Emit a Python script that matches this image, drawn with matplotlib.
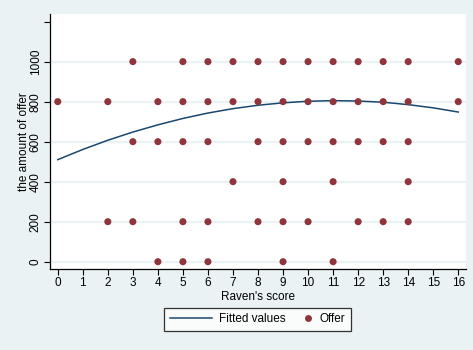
import matplotlib
matplotlib.use("Agg")
import matplotlib.pyplot as plt
from matplotlib.lines import Line2D
from matplotlib.legend_handler import HandlerLine2DCompound

plt.rcParams['font.family'] = ['Liberation Sans', 'DejaVu Sans']

# offers observed at each Raven's score, grouped by offer level
offer_levels = [1000, 800, 600, 400, 200, 0]
scores_by_level = {
    1000: [3, 5, 6, 7, 8, 9, 10, 11, 12, 13, 14, 16],
    800: [0, 2, 4, 5, 6, 7, 8, 9, 10, 11, 12, 13, 14, 16],
    600: [3, 4, 5, 6, 8, 9, 10, 11, 12, 13, 14],
    400: [7, 9, 11, 14],
    200: [2, 3, 5, 6, 8, 9, 10, 12, 13, 14],
    0: [4, 5, 6, 9, 11],
}

# quadratic fitted values
fit_x = list(range(17))
fit_y = [510, 561, 607, 648, 684, 716, 743, 765, 782, 794,
         802, 805, 803, 797, 785, 769, 748]

bg = '#EAF2F3'
navy = '#1A476F'
maroon = '#90353B'


class RightMarker(HandlerLine2DCompound):
    # put the single legend marker at the right end of its handle box
    def get_xdata(self, legend, xdescent, ydescent, width, height, fontsize):
        xdata, _ = super().get_xdata(legend, xdescent, ydescent, width,
                                     height, fontsize)
        return xdata, [-xdescent + width - 3]


fig = plt.figure(figsize=(4.73, 3.5), dpi=100, facecolor=bg)
ax = fig.add_axes([0.1057, 0.2314, 0.879, 0.7286])
ax.set_facecolor('white')

for y in [0, 200, 400, 600, 800, 1000]:
    ax.axhline(y, color=bg, lw=1.6, zorder=0)

ax.plot(fit_x, fit_y, color=navy, lw=1.1, zorder=2)

xs, ys = [], []
for lvl in offer_levels:
    for s in scores_by_level[lvl]:
        xs.append(s)
        ys.append(lvl)
ax.scatter(xs, ys, s=26, color=maroon, edgecolors='none', zorder=3)

ax.set_xlim(-0.31, 16.3)
ax.set_ylim(-36.5, 1238)
ax.set_xticks(range(17))
ax.set_yticks([0, 200, 400, 600, 800, 1000, 1200])
ax.set_yticklabels(['0', '200', '400', '600', '800', '1000', ''],
                   rotation=90, va='center')

for sp in ['top', 'right']:
    ax.spines[sp].set_visible(False)
for sp in ['left', 'bottom']:
    ax.spines[sp].set_color('black')
    ax.spines[sp].set_linewidth(0.9)

ax.tick_params(axis='both', labelsize=8.5, length=4, width=0.8, pad=2)
ax.set_xlabel("Raven's score", fontsize=8.5, labelpad=1)
ax.set_ylabel('the amount of offer', fontsize=8.5, labelpad=0)

line_h = Line2D([], [], color=navy, lw=1.1)
dot_h = Line2D([], [], color=maroon, marker='o', ls='none', markersize=5,
               markeredgewidth=0)
leg = fig.legend([line_h, dot_h], ['Fitted values', 'Offer'], loc='center',
                 bbox_to_anchor=(257.5 / 473, 1 - 319.5 / 350), ncol=2,
                 fontsize=8.5, frameon=True, fancybox=False,
                 handlelength=3.6, handletextpad=0.6, columnspacing=-1.36,
                 borderpad=0.5, numpoints=1,
                 handler_map={dot_h: RightMarker()})
leg.get_frame().set_edgecolor('black')
leg.get_frame().set_linewidth(0.9)

fig.savefig('out.png', dpi=100, facecolor=bg)
